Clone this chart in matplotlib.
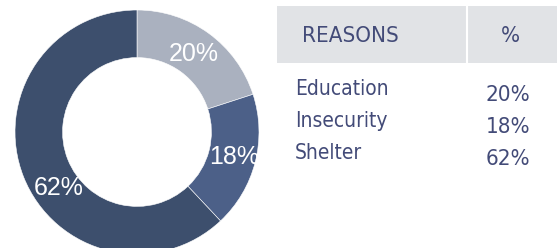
import numpy as np
import matplotlib
matplotlib.use("Agg")
from matplotlib import pyplot as plt
from matplotlib.patches import Rectangle
from matplotlib import font_manager

# data
reasons = ['Education', 'Insecurity', 'Shelter']
shares = [20, 18, 62]
colors = ['#aab1bf', '#4c6088', '#3d4f6d']
label_shift = [0, 0, 14]   # angular nudge of the percent labels (deg)

# pick a condensed face for the table if there is one
names = {f.name for f in font_manager.fontManager.ttflist}
stretches = {(f.name, f.stretch) for f in font_manager.fontManager.ttflist}
if 'Liberation Sans Narrow' in names:
    narrow = dict(family=['Liberation Sans Narrow', 'DejaVu Sans'])
elif any(n == 'DejaVu Sans' and s in ('condensed', 'semi-condensed', 500, 300) for n, s in stretches):
    narrow = dict(family=['DejaVu Sans'], fontstretch='condensed')
else:
    narrow = dict(family=['Roboto', 'DejaVu Sans'])

W, H = 557, 248
fig = plt.figure(figsize=(W / 100, H / 100), dpi=100)

# donut
cx, cy, R = 137, 132, 122
ax = fig.add_axes([(cx - R) / W, (H - cy - R) / H, 2 * R / W, 2 * R / H])
wedges, _ = ax.pie(shares, colors=colors, startangle=90, counterclock=False,
                   radius=1.0, wedgeprops=dict(width=0.39, edgecolor='white', linewidth=0.4))
ax.set_xlim(-1, 1)
ax.set_ylim(-1, 1)
ax.set_aspect('equal')
ax.axis('off')
for w, v, s in zip(wedges, shares, label_shift):
    ang = np.deg2rad((w.theta1 + w.theta2) / 2 + s)
    r = 0.82 if v == 18 else 0.79
    ax.text(r * np.cos(ang), r * np.sin(ang), '%d%%' % v, color='white',
            fontsize=18, family=['Liberation Sans', 'DejaVu Sans'],
            ha='center', va='center', clip_on=False)

# table
tx = fig.add_axes([0, 0, 1, 1])
tx.set_xlim(0, W)
tx.set_ylim(H, 0)
tx.axis('off')
txt_col = '#434b78'
tx.add_patch(Rectangle((277, 6), W - 277, 57, color='#e1e3e6', lw=0))
tx.plot([467, 467], [6, 63], color='white', lw=1.5)
tx.text(350, 36, 'REASONS', color=txt_col, fontsize=16, ha='center', va='center', **narrow)
tx.text(510, 36, '%', color=txt_col, fontsize=16, ha='center', va='center', **narrow)
for i, (r, v) in enumerate(zip(reasons, shares)):
    y = 89 + i * 32
    tx.text(295, y, r, color=txt_col, fontsize=15, ha='left', va='center', **narrow)
    tx.text(508, y + 6, '%d%%' % v, color=txt_col, fontsize=16, ha='center', va='center', **narrow)

fig.savefig('out.png', dpi=100)
